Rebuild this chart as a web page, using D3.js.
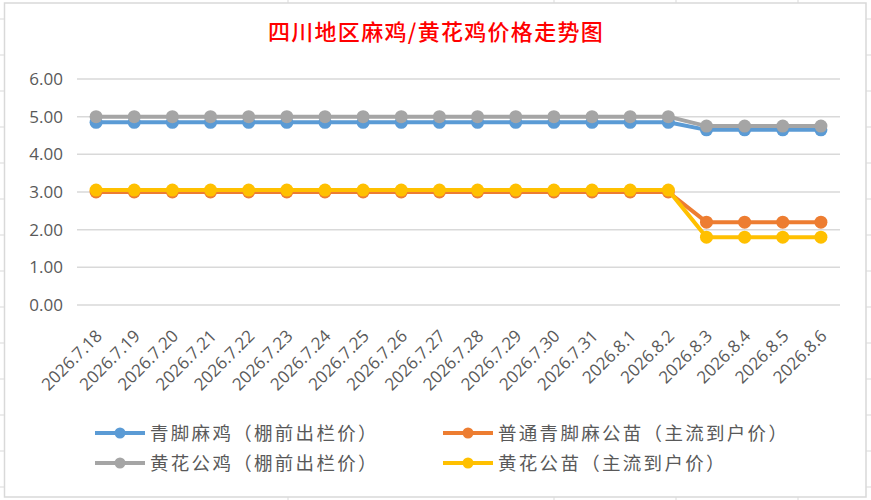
<!DOCTYPE html>
<html>
<head>
<meta charset="utf-8">
<script src="https://cdn.jsdelivr.net/npm/d3@7"></script>
<style>
  body { margin: 0; background: #fff; }
  text { font-family: "Open Sans", "Noto Sans CJK SC", sans-serif; }
</style>
</head>
<body>
<div id="chart"></div>
<script>
const dates = ['2026.7.18', '2026.7.19', '2026.7.20', '2026.7.21', '2026.7.22', '2026.7.23', '2026.7.24',
  '2026.7.25', '2026.7.26', '2026.7.27', '2026.7.28', '2026.7.29', '2026.7.30', '2026.7.31',
  '2026.8.1', '2026.8.2', '2026.8.3', '2026.8.4', '2026.8.5', '2026.8.6'];

const qingjiaoMaji = [4.85, 4.85, 4.85, 4.85, 4.85, 4.85, 4.85, 4.85, 4.85, 4.85, 4.85, 4.85, 4.85, 4.85, 4.85, 4.85, 4.65, 4.65, 4.65, 4.65];
const putongMiao   = [3.0, 3.0, 3.0, 3.0, 3.0, 3.0, 3.0, 3.0, 3.0, 3.0, 3.0, 3.0, 3.0, 3.0, 3.0, 3.0, 2.2, 2.2, 2.2, 2.2];
const huanghuaJi   = [5.0, 5.0, 5.0, 5.0, 5.0, 5.0, 5.0, 5.0, 5.0, 5.0, 5.0, 5.0, 5.0, 5.0, 5.0, 5.0, 4.75, 4.75, 4.75, 4.75];
const huanghuaMiao = [3.05, 3.05, 3.05, 3.05, 3.05, 3.05, 3.05, 3.05, 3.05, 3.05, 3.05, 3.05, 3.05, 3.05, 3.05, 3.05, 1.8, 1.8, 1.8, 1.8];

const seriesNames = ['青脚麻鸡（棚前出栏价）', '普通青脚麻公苗（主流到户价）', '黄花公鸡（棚前出栏价）', '黄花公苗（主流到户价）'];
const seriesColors = ['#5B9BD5', '#ED7D31', '#A5A5A5', '#FFC000'];
const yTicks = [0, 1, 2, 3, 4, 5, 6];

const series = [qingjiaoMaji, putongMiao, huanghuaJi, huanghuaMiao].map((values, i) => ({
  name: seriesNames[i], color: seriesColors[i], values
}));

const width = 871;
const height = 500;
const margin = { top: 79, right: 31, bottom: 195, left: 77 };

const svg = d3.select('#chart')
  .append('svg')
  .attr('width', width)
  .attr('height', height);

// spreadsheet cells peeking out around the chart frame
const cellLine = '#D9D9D9';
const rowYs = d3.range(19, 500, 36);
[[0, 4], [866, 871]].forEach(([a, b]) => {
  svg.append('g').selectAll('line').data(rowYs).join('line')
    .attr('x1', a).attr('x2', b).attr('y1', d => d).attr('y2', d => d)
    .attr('stroke', cellLine).attr('stroke-width', 1);
});
[[0, 3], [497, 500]].forEach(([a, b]) => {
  svg.append('g').selectAll('line').data([288, 554, 676, 798]).join('line')
    .attr('x1', d => d).attr('x2', d => d).attr('y1', a).attr('y2', b)
    .attr('stroke', cellLine).attr('stroke-width', 1);
});

svg.append('rect')
  .attr('x', 4.5).attr('y', 3)
  .attr('width', 861.5).attr('height', 494)
  .attr('fill', '#fff')
  .attr('stroke', cellLine)
  .attr('stroke-width', 1.5);

svg.append('text')
  .attr('x', 436)
  .attr('y', 40)
  .attr('text-anchor', 'middle')
  .attr('fill', '#FF0000')
  .attr('font-size', '22px')
  .attr('letter-spacing', '1.3px')
  .style('font-family', '"Noto Sans CJK SC", sans-serif')
  .style('font-weight', 500)
  .text('四川地区麻鸡/黄花鸡价格走势图');

const x = d3.scaleBand()
  .domain(dates)
  .range([margin.left, width - margin.right]);

const y = d3.scaleLinear()
  .domain([0, 6])
  .range([height - margin.bottom, margin.top]);

const cx = d => x(d) + x.bandwidth() / 2;

// grid lines
svg.append('g')
  .selectAll('line')
  .data(yTicks)
  .join('line')
    .attr('x1', margin.left)
    .attr('x2', width - margin.right)
    .attr('y1', d => y(d))
    .attr('y2', d => y(d))
    .attr('stroke', '#D9D9D9')
    .attr('stroke-width', 1.5);

function yAxis(g) {
  g.attr('transform', `translate(${margin.left - 14},0)`)
    .call(d3.axisLeft(y).tickValues(yTicks).tickFormat(d3.format('.2f')).tickSize(0))
    .call(g => g.select('.domain').remove())
    .call(g => g.selectAll('text')
      .attr('fill', '#595959')
      .attr('font-size', '17px')
      .attr('x', 0)
      .style('font-family', '"Open Sans", sans-serif'));
}

function xAxis(g) {
  g.attr('transform', `translate(0,${y(0)})`)
    .call(d3.axisBottom(x).tickSize(0))
    .call(g => g.select('.domain').remove())
    .call(g => g.selectAll('text')
      .attr('fill', '#595959')
      .attr('font-size', '17px')
      .attr('text-anchor', 'end')
      .attr('dy', 0)
      .attr('y', 0)
      .attr('transform', 'translate(7,32) rotate(-45)')
      .style('font-family', '"Open Sans", sans-serif'));
}

svg.append('g').call(yAxis);
svg.append('g').call(xAxis);

const line = d3.line()
  .x((d, i) => cx(dates[i]))
  .y(d => y(d));

series.forEach(s => {
  const g = svg.append('g');
  g.append('path')
    .attr('d', line(s.values))
    .attr('fill', 'none')
    .attr('stroke', s.color)
    .attr('stroke-width', 4)
    .attr('stroke-linejoin', 'round');
  g.selectAll('circle')
    .data(s.values)
    .join('circle')
      .attr('cx', (d, i) => cx(dates[i]))
      .attr('cy', d => y(d))
      .attr('r', 6.5)
      .attr('fill', s.color);
});

// legend, two columns
const legend = svg.append('g')
  .selectAll('g')
  .data(series)
  .join('g')
    .attr('transform', (d, i) => `translate(${i % 2 === 0 ? 95 : 443},${i < 2 ? 433 : 463})`);

legend.append('line')
  .attr('x1', 0).attr('x2', 50)
  .attr('stroke', d => d.color)
  .attr('stroke-width', 4);

legend.append('circle')
  .attr('cx', 25)
  .attr('r', 5.5)
  .attr('fill', d => d.color);

legend.append('text')
  .attr('x', 55)
  .attr('dy', '0.36em')
  .attr('fill', '#595959')
  .attr('font-size', '18.5px')
  .attr('letter-spacing', '2.3px')
  .style('font-family', '"Noto Sans CJK SC", sans-serif')
  .text(d => d.name);
</script>
</body>
</html>
